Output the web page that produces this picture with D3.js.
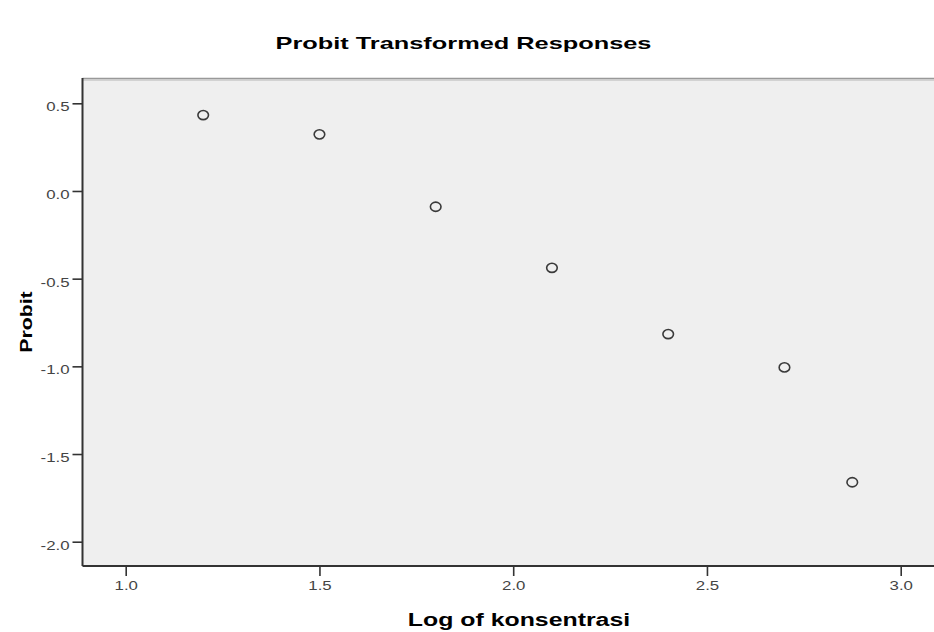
<!DOCTYPE html>
<html lang="en">
<head>
	<meta charset="UTF-8"/>
	<title>Probit Transformed Responses</title>
	<script src="https://d3js.org/d3.v7.min.js"></script>
	<style>
		body { margin: 0; background: #fff; }
		text { font-family: "Liberation Sans", Arial, sans-serif; }
	</style>
</head>
<body>
	<script>

		var w = 934;
		var h = 632;

		// data
		var logKonsentrasi = [1.2, 1.5, 1.8, 2.1, 2.4, 2.7, 2.875];
		var probit = [0.433, 0.323, -0.090, -0.438, -0.816, -1.006, -1.661];
		var xTicks = [1.0, 1.5, 2.0, 2.5, 3.0];
		var yTicks = [0.5, 0.0, -0.5, -1.0, -1.5, -2.0];

		// plot area (note: "top" is reserved on window, so use plotTop)
		var plotLeft = 82.5, plotTop = 78, plotBottom = 566;

		// the source picture is a bit stretched sideways
		var stretch = 1.4;

		//scales, fitted to where the ticks sit
		var xScale = d3.scaleLinear()
						.domain([1.0, 3.0])
						.range([125.7, 900.7]);

		var yScale = d3.scaleLinear()
						.domain([0.5, -2.0])
						.range([103.3, 541.7]);

		var fmt = function(d){ return d3.format(".1f")(d).replace("\u2212", "-"); };

		var svg = d3.select("body")
					.append("svg")
					.attr("width", w)
					.attr("height", h);

		//background of the plot
		svg.append("rect")
			.attr("x", plotLeft)
			.attr("y", plotTop)
			.attr("width", w - plotLeft + 5)
			.attr("height", plotBottom - plotTop)
			.attr("fill", "#efefef");

		//top frame line (grey, soft)
		svg.append("line")
			.attr("x1", plotLeft).attr("x2", w)
			.attr("y1", plotTop + 0.5).attr("y2", plotTop + 0.5)
			.attr("stroke", "#999")
			.attr("stroke-width", 1.5);
		svg.append("line")
			.attr("x1", plotLeft).attr("x2", w)
			.attr("y1", plotTop + 2).attr("y2", plotTop + 2)
			.attr("stroke", "#c8c8c8")
			.attr("stroke-width", 1.5);

		//axes
		var xAxis = d3.axisBottom(xScale)
						.tickValues(xTicks)
						.tickFormat(fmt)
						.tickSize(10)
						.tickPadding(5);

		var yAxis = d3.axisLeft(yScale)
						.tickValues(yTicks)
						.tickFormat(fmt)
						.tickSize(10)
						.tickPadding(3);

		var gx = svg.append("g")
			.attr("transform", "translate(0," + plotBottom + ")")
			.call(xAxis);

		var gy = svg.append("g")
			.attr("transform", "translate(" + plotLeft + ",0)")
			.call(yAxis);

		[gx, gy].forEach(function(g){
			g.select(".domain").remove();
			g.selectAll(".tick line").attr("stroke", "#333").attr("stroke-width", 1.6);
			g.selectAll(".tick text")
				.attr("fill", "#444")
				.style("font-size", "12px")
				.style("font-family", "Liberation Sans, Arial, sans-serif");
		});
		gy.selectAll(".tick text").attr("dy", "0.62em");

		//left and bottom frame lines
		svg.append("line")
			.attr("x1", plotLeft).attr("x2", plotLeft)
			.attr("y1", plotTop).attr("y2", plotBottom)
			.attr("stroke", "#333").attr("stroke-width", 2);
		svg.append("line")
			.attr("x1", plotLeft).attr("x2", w)
			.attr("y1", plotBottom).attr("y2", plotBottom)
			.attr("stroke", "#333").attr("stroke-width", 2);

		//points
		svg.selectAll("ellipse")
			.data(logKonsentrasi)
			.enter()
			.append("ellipse")
			.attr("cx", function(d){ return xScale(d); })
			.attr("cy", function(d, i){ return yScale(probit[i]); })
			.attr("rx", 5.3)
			.attr("ry", 4.6)
			.attr("fill", "none")
			.attr("stroke", "#3a3a3a")
			.attr("stroke-width", 1.6);

		//title
		svg.append("text")
			.attr("class", "wide")
			.attr("data-stretch", 1.49)
			.attr("text-anchor", "middle")
			.attr("x", 463.5)
			.attr("y", 49)
			.style("font-size", "17px")
			.style("font-weight", "bold")
			.text("Probit Transformed Responses");

		//x-axis label
		svg.append("text")
			.attr("class", "wide")
			.attr("data-stretch", 1.42)
			.attr("text-anchor", "middle")
			.attr("x", 519)
			.attr("y", 626)
			.style("font-size", "17.5px")
			.style("font-weight", "bold")
			.text("Log of konsentrasi");

		//y-axis label
		svg.append("text")
			.attr("class", "wide")
			.attr("data-stretch", 1.25)
			.attr("text-anchor", "middle")
			.attr("transform", "rotate(-90)")
			.attr("x", -322)
			.attr("y", 32)
			.style("font-size", "17px")
			.style("font-weight", "bold")
			.text("Probit");

		//stretch the text like the source picture
		svg.selectAll(".wide, .tick text").each(function(){
			var len = this.getComputedTextLength();
			var s = +(this.getAttribute("data-stretch") || stretch);
			d3.select(this)
				.attr("textLength", len * s)
				.attr("lengthAdjust", "spacingAndGlyphs");
		});

	</script>
</body>
</html>
